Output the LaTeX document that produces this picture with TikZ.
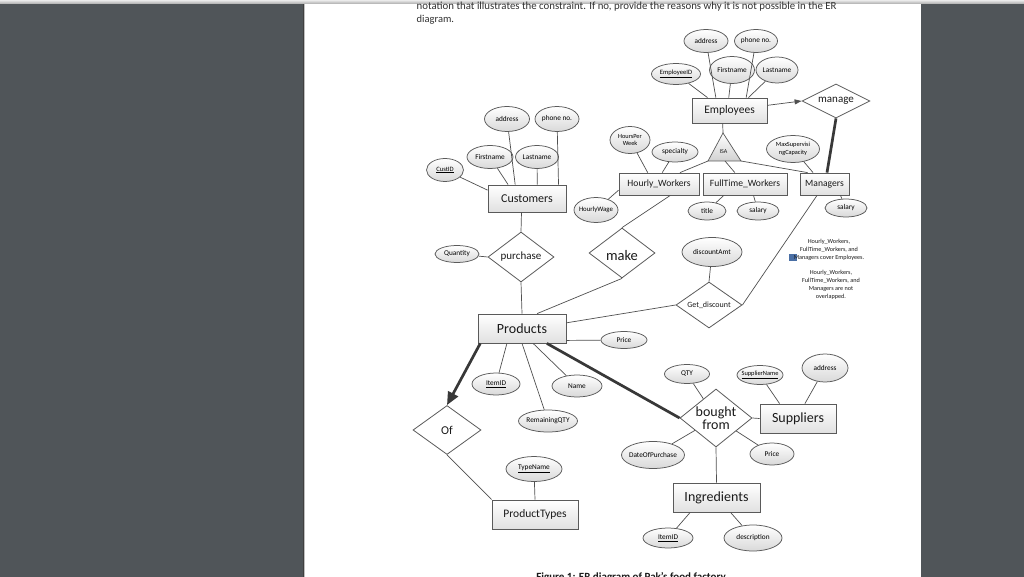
\documentclass[tikz,border=0pt]{standalone}
\usepackage{fontspec}
\setmainfont{Carlito}
\usetikzlibrary{shapes.geometric,arrows.meta,calc}
\definecolor{bgc}{HTML}{505559}
\definecolor{lnc}{HTML}{505050}
\definecolor{bdc}{HTML}{5A5A5A}
\definecolor{txc}{HTML}{1A1A1A}
\definecolor{hlc}{HTML}{4A6FA5}
\newcommand{\fs}[1]{\fontsize{#1}{#1}\selectfont}
\tikzset{
  ent/.style={draw=bdc, line width=0.8pt, top color=white, bottom color=black!12, inner sep=0pt, text=txc},
  attr/.style={ellipse, draw=bdc, line width=0.75pt, top color=white, bottom color=black!15, inner sep=0pt},
  alab/.style={font=\fs{7.3}, text=black, inner sep=0pt, align=center},
  rel/.style={diamond, draw=bdc, line width=0.8pt, fill=white, inner sep=0pt},
  rlab/.style={text=txc, inner sep=0pt, align=center},
  conn/.style={draw=lnc, line width=0.7pt},
  heavy/.style={draw=black!78, line width=2.7pt},
}
\begin{document}
\begin{tikzpicture}[x=1pt,y=-1pt]
\useasboundingbox (0,0) rectangle (1024,577);
\clip (0,0) rectangle (1024,577);
% page background
\fill[bgc] (0,0) rectangle (1024,577);
\fill[white] (305,3) rectangle (921,577);
\fill[black!75] (303,3) rectangle (304,577);
\fill[black!25] (304,3) rectangle (305,577);
\shade[top color=black!8, bottom color=black!30] (0,0) rectangle (1024,3.5);

% header text
\node[anchor=base west, inner sep=0pt, font=\fs{10.5}, text=txc!90] (t1) at (416.5,10)
  {\resizebox{420pt}{!}{notation that illustrates the constraint. If no, provide the reasons why it is not possible in the ER}};
\node[anchor=base west, inner sep=0pt, font=\fs{10.5}, text=txc!90] (t2) at (416.5,23) {diagram.};

% ---------------- Employees ----------------
\node[attr, minimum width=44, minimum height=23, label={[alab]center:address}] (ead) at (706,41) {};
\node[attr, minimum width=43, minimum height=23, label={[alab]center:phone no.}] (eph) at (756,41) {};
\node[attr, minimum width=49, minimum height=21, label={[alab,font=\fs{6.6}]center:\underline{EmployeeID}}] (eid) at (676,74) {};
\node[attr, minimum width=45, minimum height=27, label={[alab]center:Firstname}] (efn) at (732,70) {};
\node[attr, minimum width=42, minimum height=26, label={[alab]center:Lastname}] (eln) at (777,70) {};
\node[ent, minimum width=75, minimum height=25, font=\fs{11.5}] (emp) at (729.5,110.5) {Employees};
\node[rel, minimum width=68, minimum height=34, label={[rlab,font=\fs{11}]center:manage}] (man) at (836,101) {};

% ISA triangle
\coordinate (isaA) at (723,133);
\coordinate (isaL) at (708,161);
\coordinate (isaR) at (741,161);
\coordinate (isaM) at (725,161);
\path[draw=bdc, line width=0.7pt, top color=white, bottom color=black!18] (isaA) -- (isaL) -- (isaR) -- cycle;
\node[font=\fs{6}, text=txc, inner sep=0pt] (isat) at (723.5,152) {ISA};

\node[ent, minimum width=80, minimum height=22, font=\fs{9.6}] (hw) at (659,184) {Hourly\_Workers};
\node[ent, minimum width=84, minimum height=22, font=\fs{9.6}] (ft) at (745,184) {FullTime\_Workers};
\node[ent, minimum width=49, minimum height=22, font=\fs{9.6}] (mgr) at (824.5,184) {Managers};

\node[attr, minimum width=40, minimum height=27, label={[alab,font=\fontsize{6.3}{7.5}\selectfont]center:HoursPer\\Week}] (hpw) at (630,140) {};
\node[attr, minimum width=46, minimum height=20, label={[alab]center:specialty}] (spec) at (675,152) {};
\node[attr, minimum width=44, minimum height=25, label={[alab,font=\fs{6.8}]center:HourlyWage}] (hwage) at (596,210) {};
\node[attr, minimum width=38, minimum height=18, label={[alab]center:title}] (title) at (707,211) {};
\node[attr, minimum width=42, minimum height=18, label={[alab]center:salary}] (fsal) at (758,211) {};
\node[attr, minimum width=53, minimum height=27, label={[alab,font=\fontsize{6.3}{8}\selectfont]center:MaxSupervisi\\ngCapacity}] (msc) at (793,149) {};
\node[attr, minimum width=42, minimum height=18, label={[alab]center:salary}] (msal) at (846,208) {};

% ---------------- Customers ----------------
\node[attr, minimum width=45, minimum height=25, label={[alab]center:address}] (cad) at (507,119) {};
\node[attr, minimum width=44, minimum height=25, label={[alab]center:phone no.}] (cph) at (557,119) {};
\node[attr, minimum width=46, minimum height=23, label={[alab]center:Firstname}] (cfn) at (490,157) {};
\node[attr, minimum width=43, minimum height=23, label={[alab]center:Lastname}] (cln) at (537,157) {};
\node[attr, minimum width=37, minimum height=23, label={[alab,font=\fs{6.6}]center:\underline{CustID}}] (cid) at (445,170) {};
\node[ent, minimum width=78, minimum height=27, font=\fs{12}] (cust) at (527,198.5) {Customers};

% ---------------- relationships middle ----------------
\node[attr, minimum width=44, minimum height=17, label={[alab]center:Quantity}] (qty) at (457,254) {};
\node[rel, minimum width=66, minimum height=50, label={[rlab,font=\fs{11}]center:purchase}] (pur) at (521,257) {};
\node[rel, minimum width=66, minimum height=50, label={[rlab,font=\fs{14.5},yshift=-3pt]center:make}] (make) at (622,253) {};
\node[attr, minimum width=60, minimum height=29, label={[alab]center:discountAmt}] (disc) at (712,252) {};
\node[rel, minimum width=66, minimum height=46, label={[rlab,font=\fs{8}]center:Get\_discount}] (getd) at (709,305) {};

% annotation
\fill[hlc] (788.5,253.5) rectangle (796.5,260.5);
\node[font=\fontsize{6.2}{8}\selectfont, text=txc, align=center, inner sep=0pt] (note1) at (829,249.5)
  {Hourly\_Workers,\\FullTime\_Workers, and\\Managers cover Employees.};
\node[font=\fontsize{6.2}{8}\selectfont, text=txc, align=center, inner sep=0pt] (note2) at (831,284.5)
  {Hourly\_Workers,\\FullTime\_Workers, and\\Managers are not\\overlapped.};

% ---------------- Products ----------------
\node[ent, minimum width=88, minimum height=29, font=\fs{14}] (prod) at (522,328.5) {Products};
\node[attr, minimum width=46, minimum height=17, label={[alab]center:Price}] (pprice) at (624,340) {};
\node[attr, minimum width=48, minimum height=22, label={[alab]center:\underline{ItemID}}] (pitem) at (496,384) {};
\node[attr, minimum width=50, minimum height=22, label={[alab]center:Name}] (pname) at (577,386) {};
\node[attr, minimum width=59, minimum height=22, label={[alab]center:RemainingQTY}] (prem) at (548,421) {};
\node[rel, minimum width=68, minimum height=49, label={[rlab,font=\fs{12}]center:Of}] (of) at (447,430) {};
\node[attr, minimum width=56, minimum height=25, label={[alab]center:\underline{TypeName}}] (tname) at (534,469) {};
\node[ent, minimum width=86, minimum height=29, font=\fs{11.5}] (pt) at (535,514.5) {ProductTypes};

% ---------------- bought from ----------------
\node[rel, minimum width=72, minimum height=58, label={[rlab,font=\fontsize{14}{10.5}\selectfont]center:bought\\from}] (bought) at (716,418) {};
\node[attr, minimum width=45, minimum height=19, label={[alab]center:QTY}] (bqty) at (687,374) {};
\node[attr, minimum width=46, minimum height=19, label={[alab,font=\fs{6.4}]center:\underline{SupplierName}}] (sname) at (760,375) {};
\node[attr, minimum width=46, minimum height=28, label={[alab]center:address}] (saddr) at (825,368) {};
\node[ent, minimum width=76, minimum height=29, font=\fs{14}] (sup) at (798,418.5) {Suppliers};
\node[attr, minimum width=63, minimum height=27, label={[alab]center:DateOfPurchase}] (dop) at (653,455) {};
\node[attr, minimum width=44, minimum height=22, label={[alab]center:Price}] (bprice) at (772,454) {};
\node[ent, minimum width=87, minimum height=29, font=\fs{14}] (ing) at (716.5,497.5) {Ingredients};
\node[attr, minimum width=50, minimum height=20, label={[alab]center:\underline{ItemID}}] (iitem) at (668,538) {};
\node[attr, minimum width=58, minimum height=26, label={[alab]center:description}] (idesc) at (753,538) {};

% caption
\node[anchor=base, inner sep=0pt, font=\bfseries\fs{11}, text=txc] (cap) at (631,580.5) {Figure 1: ER diagram of Pak’s food factory};

% ---------------- connectors ----------------
% Employees attributes
\draw[conn] (eid) -- ($(emp.north west)!0.21!(emp.north east)$);
\draw[conn] (ead) -- ($(emp.north west)!0.32!(emp.north east)$);
\draw[conn] (efn) -- ($(emp.north west)!0.49!(emp.north east)$);
\draw[conn] (eph) -- ($(emp.north west)!0.72!(emp.north east)$);
\draw[conn] (eln) -- ($(emp.north west)!0.75!(emp.north east)$);
\draw[conn, -{Triangle[length=7pt,width=5pt]}] ($(emp.north east)!0.3!(emp.south east)$) -- (man.west);
\draw[conn] ($(emp.south west)!0.41!(emp.south east)$) -- (isaA);
% ISA
\draw[conn] (isaL) -- ($(hw.north west)!0.76!(hw.north east)$);
\draw[conn] (isaM) -- ($(ft.north west)!0.38!(ft.north east)$);
\draw[conn] (isaR) -- ($(mgr.north west)!0.16!(mgr.north east)$);
% Hourly workers
\draw[conn] (hpw) -- ($(hw.north west)!0.36!(hw.north east)$);
\draw[conn] (spec) -- ($(hw.north west)!0.54!(hw.north east)$);
\draw[conn] (hwage) -- ($(hw.north west)!0.77!(hw.south west)$);
\draw[conn] ($(hw.south west)!0.64!(hw.south east)$) -- (make.north);
% FullTime
\draw[conn] (title) -- ($(ft.south west)!0.25!(ft.south east)$);
\draw[conn] (fsal) -- ($(ft.south west)!0.6!(ft.south east)$);
% Managers
\draw[conn] (msc) -- ($(mgr.north west)!0.27!(mgr.north east)$);
\draw[heavy] ($(mgr.north west)!0.55!(mgr.north east)$) -- (man.south);
\draw[conn] (msal) -- ($(mgr.south west)!0.82!(mgr.south east)$);
\draw[conn] ($(mgr.south west)!0.35!(mgr.south east)$) -- (getd.east);
% Customers
\draw[conn] (cid) -- ($(cust.north west)!0.2!(cust.south west)$);
\draw[conn] (cfn) -- ($(cust.north west)!0.26!(cust.north east)$);
\draw[conn] (cad) -- ($(cust.north west)!0.35!(cust.north east)$);
\draw[conn] (cln) -- ($(cust.north west)!0.63!(cust.north east)$);
\draw[conn] (cph) -- ($(cust.north west)!0.9!(cust.north east)$);
\draw[conn] ($(cust.south west)!0.43!(cust.south east)$) -- (pur.north);
% purchase / make / discount
\draw[conn] (qty) -- (pur.west);
\draw[conn] (pur.south) -- (prod.north);
\draw[conn] (make.south) -- ($(prod.north west)!0.67!(prod.north east)$);
\draw[conn] (disc) -- (getd.north);
\draw[conn] (getd.west) -- ($(prod.north east)!0.31!(prod.south east)$);
% Products
\draw[conn] ($(prod.north east)!0.9!(prod.south east)$) -- (pprice);
\draw[conn] ($(prod.south west)!0.33!(prod.south east)$) -- (pitem);
\draw[conn] (prod.south) -- (prem);
\draw[conn] ($(prod.south west)!0.625!(prod.south east)$) -- (pname);
\draw[heavy, -{Triangle[length=13pt,width=11pt]}] ($(prod.south west)!0.03!(prod.south east)$) -- (of.north);
\draw[heavy] ($(prod.south west)!0.78!(prod.south east)$) -- (bought.west);
% Of
\draw[conn] (of.south) -- (pt.north west);
\draw[conn] (tname) -- (pt.north);
% bought from
\draw[conn] (bqty) -- (bought);
\draw[conn] (dop) -- (bought);
\draw[conn] (bprice) -- (bought);
\draw[conn] (bought.east) -- (sup.west);
\draw[conn] (bought.south) -- (ing.north);
\draw[conn] (sname) -- ($(sup.north west)!0.26!(sup.north east)$);
\draw[conn] (saddr) -- ($(sup.north west)!0.59!(sup.north east)$);
% Ingredients
\draw[conn] ($(ing.south west)!0.2!(ing.south east)$) -- (iitem);
\draw[conn] ($(ing.south west)!0.66!(ing.south east)$) -- (idesc);
\end{tikzpicture}
\end{document}
